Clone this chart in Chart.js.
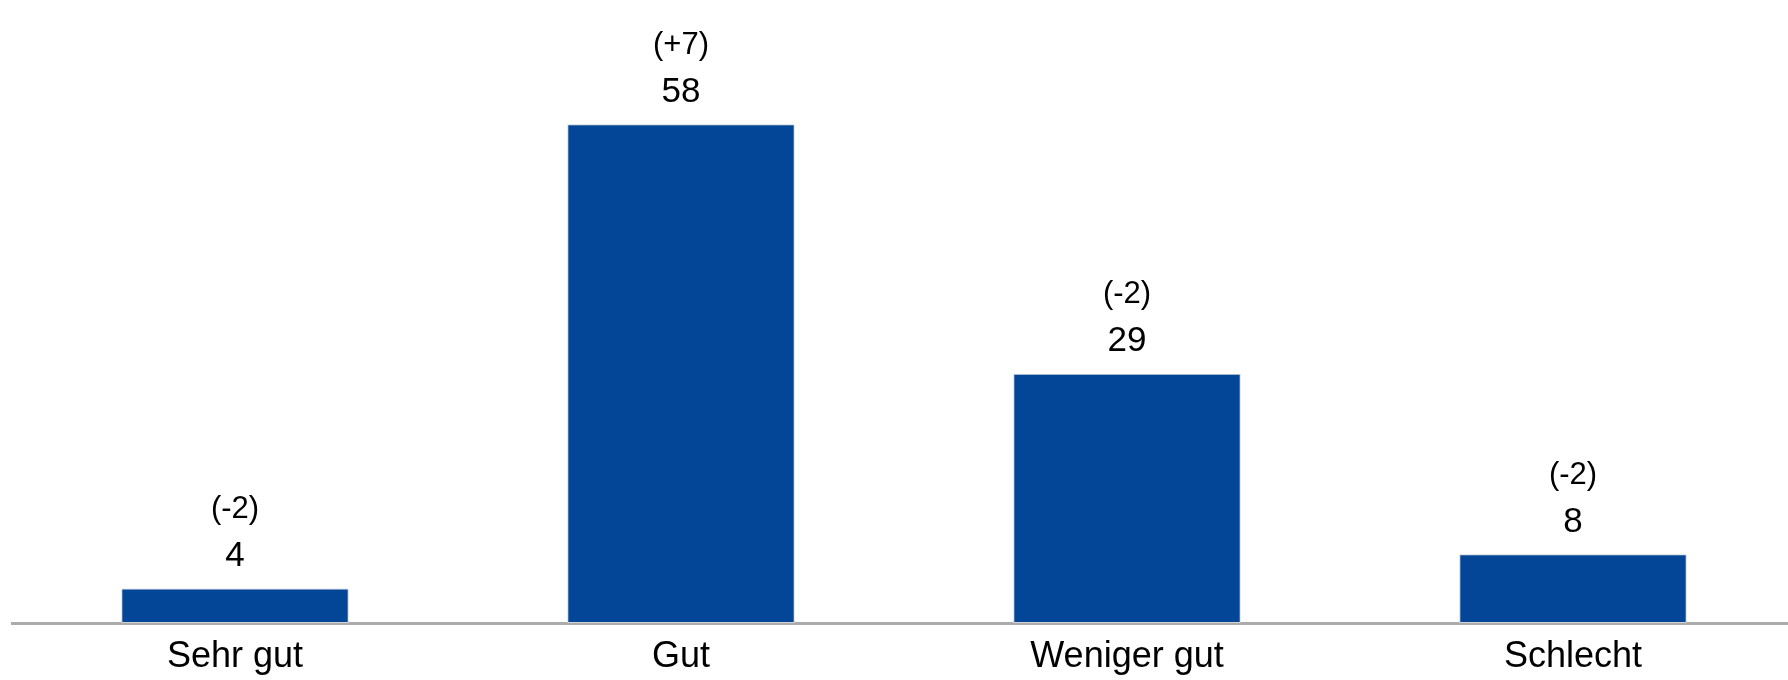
<!DOCTYPE html>
<html>
<head>
<meta charset="UTF-8">
<title>Bewertung</title>
<script src="https://cdn.jsdelivr.net/npm/chart.js@4"></script>
<style>
  body { margin: 0; background: #fff; overflow: hidden; }
  #wrap { width: 1800px; height: 680px; }
</style>
</head>
<body>
<div id="wrap"><canvas id="myChart" width="1800" height="680"></canvas></div>
<script>
// Daten
const categories = ['Sehr gut', 'Gut', 'Weniger gut', 'Schlecht'];
const values = [4, 58, 29, 8];
const changes = ['(-2)', '(+7)', '(-2)', '(-2)'];

// Werte und Veränderungen über den Balken
const barLabels = {
    id: 'barLabels',
    afterDatasetsDraw(chart) {
        const ctx = chart.ctx;
        const meta = chart.getDatasetMeta(0);
        ctx.save();
        ctx.fillStyle = '#000';
        ctx.textAlign = 'center';
        ctx.textBaseline = 'middle';
        meta.data.forEach((bar, i) => {
            ctx.font = '35px "Liberation Sans", Arial, sans-serif';
            ctx.fillText(String(values[i]), bar.x, bar.y - 32);
            ctx.font = '31px "Liberation Sans", Arial, sans-serif';
            ctx.fillText(changes[i], bar.x, bar.y - 79);
        });
        ctx.restore();
    }
};

const canvas = document.getElementById('myChart');
const myChart = new Chart(canvas, {
    type: 'bar',
    data: {
        labels: categories,
        datasets: [{
            data: values,
            backgroundColor: '#034597',
            borderColor: '#d4d4d4',
            borderWidth: 1,
            borderSkipped: false,
            barPercentage: 0.51,
            categoryPercentage: 1
        }]
    },
    options: {
        responsive: false,
        animation: false,
        layout: { padding: { top: 4, left: 12, right: 4, bottom: 0 } },
        plugins: {
            legend: { display: false },
            tooltip: { enabled: false }
        },
        scales: {
            x: {
                grid: { display: false, drawTicks: false },
                border: { display: true, color: '#ababab', width: 3 },
                ticks: {
                    color: '#000',
                    padding: 12,
                    font: { family: '"Liberation Sans", Arial, sans-serif', size: 36 }
                },
                afterFit(scale) { scale.height = 57; }
            },
            y: {
                display: false,
                min: 0,
                max: 72
            }
        }
    },
    plugins: [barLabels]
});
</script>
</body>
</html>
